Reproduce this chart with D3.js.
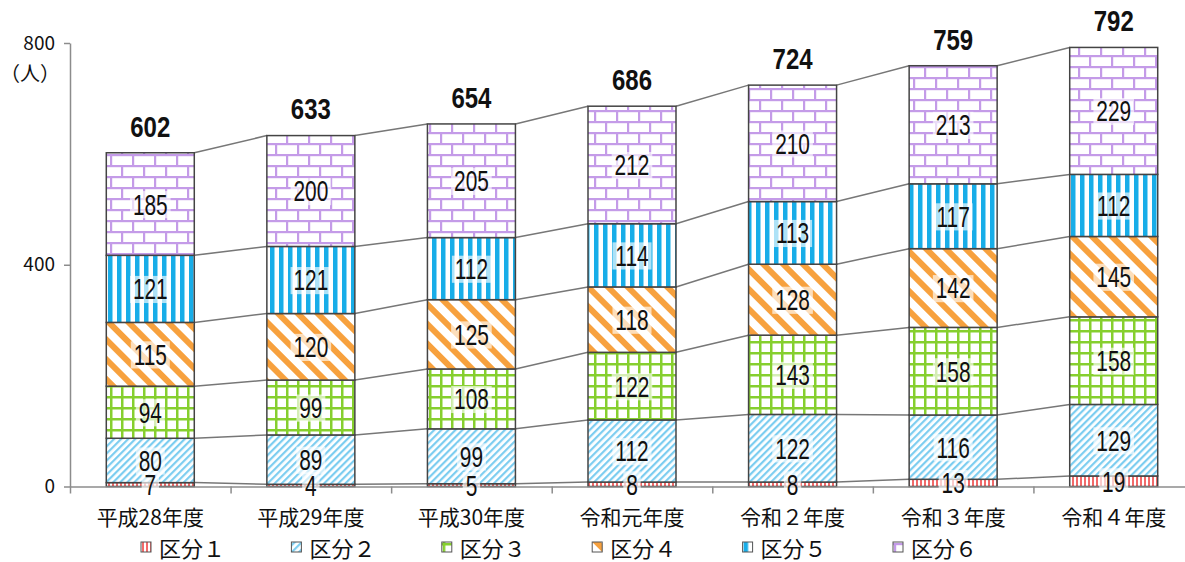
<!DOCTYPE html>
<html>
<head>
<meta charset="utf-8">
<script src="https://cdn.jsdelivr.net/npm/d3@7"></script>
<style>
  html, body { margin: 0; padding: 0; background: #fff; }
  svg { display: block; }
  .num { font-family: "Liberation Sans", Arial, sans-serif; }
  .jp { font-family: "Noto Sans CJK JP", "Noto Sans", sans-serif; }
</style>
</head>
<body>
<svg id="chart" width="1185" height="562"></svg>
<script>
// Fiscal years
const categories = ["平成28年度", "平成29年度", "平成30年度", "令和元年度", "令和２年度", "令和３年度", "令和４年度"];
const seriesNames = ["区分１", "区分２", "区分３", "区分４", "区分５", "区分６"];
// Head counts per category, bottom to top
const kubun1 = [7, 4, 5, 8, 8, 13, 19];
const kubun2 = [80, 89, 99, 112, 122, 116, 129];
const kubun3 = [94, 99, 108, 122, 143, 158, 158];
const kubun4 = [115, 120, 125, 118, 128, 142, 145];
const kubun5 = [121, 121, 112, 114, 113, 117, 112];
const kubun6 = [185, 200, 205, 212, 210, 213, 229];
const totals = [602, 633, 654, 686, 724, 759, 792];
const yTicks = [0, 400, 800];

const seriesValues = [kubun1, kubun2, kubun3, kubun4, kubun5, kubun6];
const table = categories.map((c, i) => {
  const row = { year: c };
  seriesNames.forEach((s, k) => row[s] = seriesValues[k][i]);
  return row;
});
const stacked = d3.stack().keys(seriesNames)(table);

const svg = d3.select("#chart");
const x = d3.scaleBand().domain(categories).range([70, 1194]).paddingInner(0.452).paddingOuter(0.226);
const y = d3.scaleLinear().domain([0, 800]).range([486.5, 43]);

// ---- fill patterns ----
const defs = svg.append("defs");
const patternDefs = [
  // 区分1: thin red vertical stripes
  { w: 4, h: 4, rot: 0, draw: p => p.append("rect").attr("width", 2).attr("height", 4).attr("fill", "#f26a6a") },
  // 区分2: light-blue diagonal hatching
  { w: 5, h: 5, rot: 45, draw: p => p.append("rect").attr("width", 2.2).attr("height", 5).attr("fill", "#7ccdf0") },
  // 区分3: green grid
  { w: 11, h: 11, rot: 0, draw: p => {
      p.append("rect").attr("width", 2.5).attr("height", 11).attr("fill", "#86cf2e");
      p.append("rect").attr("width", 11).attr("height", 2.5).attr("fill", "#86cf2e");
  } },
  // 区分4: wide orange diagonal stripes
  { w: 14, h: 14, rot: -45, draw: p => p.append("rect").attr("width", 6).attr("height", 14).attr("fill", "#f7a13e") },
  // 区分5: blue vertical stripes
  { w: 9, h: 9, rot: 0, draw: p => p.append("rect").attr("width", 4.5).attr("height", 9).attr("fill", "#18ade8") },
  // 区分6: lavender brick wall
  { w: 22, h: 22, rot: 0, draw: p => {
      const c = "#c49be8";
      p.append("rect").attr("y", 0).attr("width", 22).attr("height", 2.2).attr("fill", c);
      p.append("rect").attr("y", 11).attr("width", 22).attr("height", 2.2).attr("fill", c);
      p.append("rect").attr("x", 0).attr("width", 2.2).attr("height", 11).attr("fill", c);
      p.append("rect").attr("x", 11).attr("y", 11).attr("width", 2.2).attr("height", 11).attr("fill", c);
  } }
];
function makePattern(id, def, tx, ty) {
  const p = defs.append("pattern").attr("id", id).attr("patternUnits", "userSpaceOnUse")
    .attr("width", def.w).attr("height", def.h)
    .attr("patternTransform", `translate(${tx},${ty}) rotate(${def.rot})`);
  p.append("rect").attr("width", def.w).attr("height", def.h).attr("fill", "#fff");
  def.draw(p);
}
patternDefs.forEach((d, k) => makePattern(`p${k}`, d, 0, 0));
const fills = seriesNames.map((s, k) => `url(#p${k})`);

// narrow numeric label, centred on (cx, cy)
function narrowText(parent, cx, cy, str, size, weight, sx) {
  const g = parent.append("g").attr("transform", `translate(${cx},${cy}) scale(${sx},1)`);
  const t = g.append("text").attr("class", "num").attr("x", 0).attr("y", 0).attr("dy", "0.36em")
    .attr("text-anchor", "middle").attr("font-size", size).attr("font-weight", weight)
    .attr("fill", "#111").text(str);
  return { g, t };
}

// ---- axes ----
const yAxis = svg.append("g").attr("transform", "translate(70,0)")
  .call(d3.axisLeft(y).tickValues(yTicks).tickSize(6).tickSizeOuter(0).tickPadding(9));
yAxis.select(".domain").attr("stroke", "#8c8c8c").attr("stroke-width", 1.5);
yAxis.selectAll(".tick line").attr("stroke", "#8c8c8c").attr("stroke-width", 1.5);
yAxis.selectAll(".tick text").attr("class", "jp").attr("font-size", 19).attr("fill", "#111");

svg.append("text").attr("class", "jp").attr("x", 0).attr("y", 81)
  .attr("text-anchor", "start").attr("font-size", 20).attr("fill", "#111").text("（人）");

// connector lines between the stacked segment tops
const stackTops = seriesNames.map((s, k) => stacked[k].map(d => d[1]));
stackTops.forEach(tops => {
  for (let i = 0; i < categories.length - 1; i++) {
    svg.append("line")
      .attr("x1", x(categories[i]) + x.bandwidth()).attr("y1", y(tops[i]))
      .attr("x2", x(categories[i + 1])).attr("y2", y(tops[i + 1]))
      .attr("stroke", "#777").attr("stroke-width", 1.5);
  }
});

// stacked bars
stacked.forEach((layer, k) => {
  svg.append("g").selectAll("rect").data(layer).join("rect")
    .attr("x", d => x(d.data.year))
    .attr("y", d => y(d[1]))
    .attr("width", x.bandwidth())
    .attr("height", d => y(d[0]) - y(d[1]))
    .attr("fill", fills[k])
    .attr("stroke", "#444").attr("stroke-width", 1.5);
});

// x axis (drawn over the bar bottoms)
const xAxisLine = d3.scaleLinear().domain([0, categories.length]).range([70, 1194]);
const xAxis = svg.append("g").attr("transform", `translate(0,${y(0)})`)
  .call(d3.axisBottom(xAxisLine).tickValues(d3.range(0, categories.length + 1)).tickSize(7).tickSizeOuter(0).tickFormat(""));
xAxis.select(".domain").attr("stroke", "#8c8c8c").attr("stroke-width", 1.5);
xAxis.selectAll(".tick line").attr("stroke", "#8c8c8c").attr("stroke-width", 1.5);

svg.append("g").selectAll("text").data(categories).join("text")
  .attr("class", "jp")
  .attr("x", d => x(d) + x.bandwidth() / 2).attr("y", 525)
  .attr("text-anchor", "middle").attr("font-size", 21).attr("fill", "#111")
  .text(d => d);

// segment value labels on translucent white boxes
const labelLayer = svg.append("g");
stacked.forEach((layer, k) => {
  layer.forEach(d => {
    const cx = x(d.data.year) + x.bandwidth() / 2;
    const cy = (y(d[0]) + y(d[1])) / 2;
    const { g, t } = narrowText(labelLayer, cx, cy, d[1] - d[0], 29, "normal", 0.72);
    const bb = t.node().getBBox();
    g.insert("rect", "text")
      .attr("x", bb.x - 4).attr("y", bb.y + 3).attr("width", bb.width + 8).attr("height", bb.height - 5)
      .attr("fill", "#fff").attr("fill-opacity", 0.65);
  });
});

// totals above bars
totals.forEach((v, i) => {
  narrowText(svg, x(categories[i]) + x.bandwidth() / 2, y(v) - 27, v, 30, "bold", 0.8);
});

// legend
const legend = svg.append("g");
seriesNames.forEach((s, k) => {
  const lx = 141 + k * 150.4, ly = 542;
  makePattern(`lg${k}`, patternDefs[k], lx + 1, ly + 1);
  legend.append("rect").attr("x", lx).attr("y", ly).attr("width", 10).attr("height", 10)
    .attr("fill", `url(#lg${k})`).attr("stroke", "#555").attr("stroke-width", 1);
  legend.append("text").attr("class", "jp").attr("x", lx + 18).attr("y", 557)
    .attr("font-size", 22).attr("fill", "#111").text(s);
});
</script>
</body>
</html>
